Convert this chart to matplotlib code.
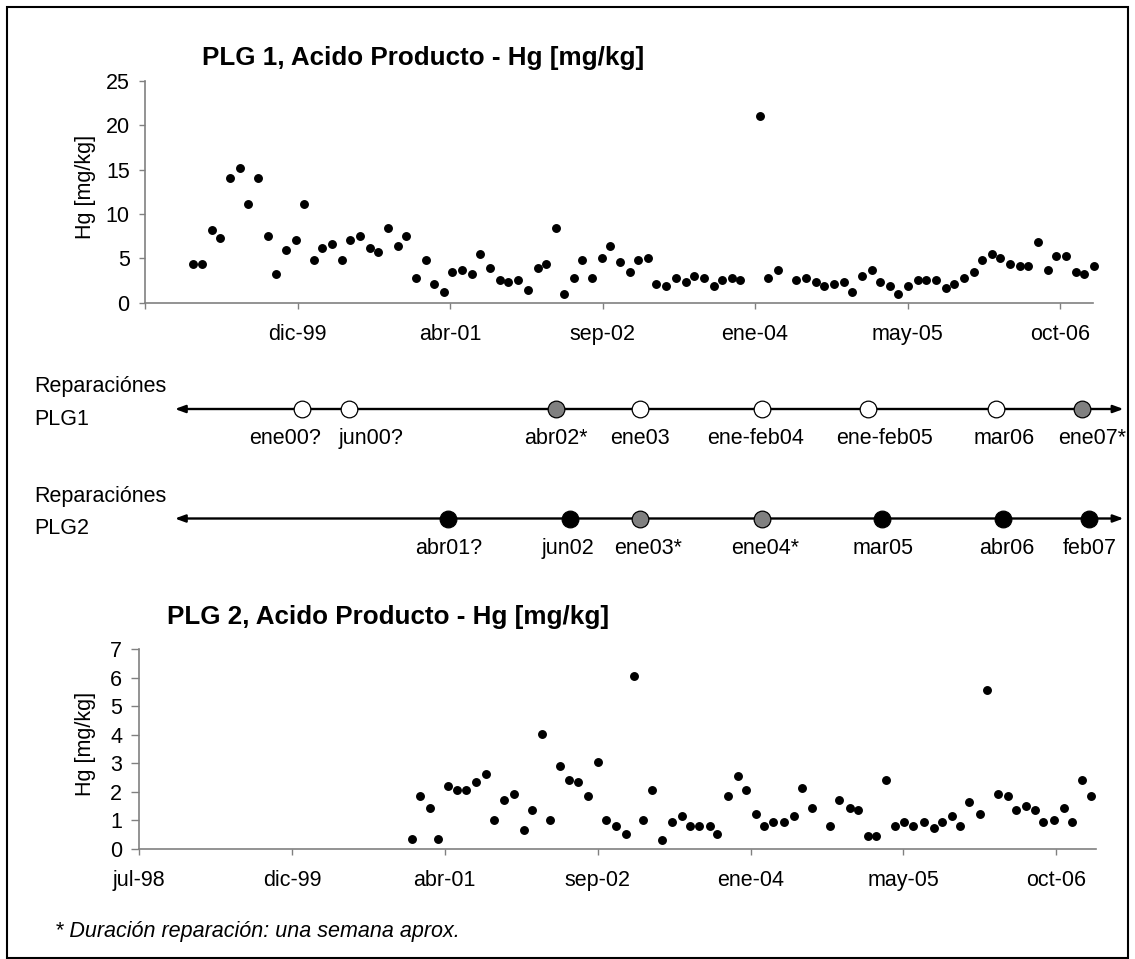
import numpy as np
import matplotlib
matplotlib.use("Agg")
import matplotlib.pyplot as plt
from matplotlib.patches import Rectangle

plt.rcParams['font.family'] = ['Liberation Sans', 'DejaVu Sans']

# x values: days counted from 24-jul-1998 (Excel serial 36000)
tick_days = [0, 500, 1000, 1500, 2000, 2500, 3000]
tick_labels = ['jul-98', 'dic-99', 'abr-01', 'sep-02', 'ene-04', 'may-05', 'oct-06']

plg1_days = [158, 186, 219, 245, 278, 311, 337, 370, 402, 429,
             461, 494, 520, 553, 579, 612, 645, 671, 704, 737,
             763, 796, 829, 855, 888, 920, 947, 979, 1006, 1038,
             1071, 1097, 1130, 1163, 1189, 1222, 1255, 1288, 1314, 1347,
             1373, 1406, 1432, 1465, 1498, 1524, 1557, 1589, 1616, 1648,
             1675, 1707, 1740, 1773, 1799, 1832, 1865, 1891, 1924, 1950,
             2016, 2042, 2075, 2134, 2166, 2199, 2225, 2258, 2291, 2317,
             2350, 2383, 2409, 2442, 2468, 2501, 2534, 2560, 2593, 2626,
             2652, 2685, 2717, 2744, 2776, 2803, 2835, 2868, 2894, 2927,
             2960, 2986, 3019, 3052, 3078, 3111]
plg1_hg = [4.36, 4.36, 8.2, 7.26, 14.06, 15.19, 11.09, 14.06, 7.52, 3.2,
           5.94, 7.07, 11.09, 4.81, 6.13, 6.6, 4.81, 7.07, 7.52, 6.13,
           5.68, 8.42, 6.39, 7.52, 2.78, 4.81, 2.1, 1.24, 3.5, 3.69,
           3.24, 5.53, 3.91, 2.56, 2.33, 2.56, 1.43, 3.91, 4.36, 8.42,
           0.98, 2.78, 4.81, 2.78, 5.04, 6.39, 4.59, 3.46, 4.81, 5.04,
           2.1, 1.88, 2.78, 2.33, 3.01, 2.78, 1.88, 2.56, 2.78, 2.56,
           21.05, 2.78, 3.69, 2.56, 2.78, 2.33, 1.88, 2.1, 2.33, 1.2,
           3.01, 3.69, 2.33, 1.88, 0.98, 1.88, 2.56, 2.56, 2.56, 1.66,
           2.1, 2.78, 3.46, 4.81, 5.53, 5.04, 4.36, 4.14, 4.14, 6.84,
           3.69, 5.27, 5.27, 3.46, 3.24, 4.14]

plg2_days = [892, 918, 951, 977, 1009, 1041, 1068, 1101, 1134, 1160,
             1193, 1225, 1258, 1284, 1317, 1343, 1376, 1408, 1435, 1467,
             1500, 1526, 1559, 1592, 1618, 1650, 1677, 1709, 1742, 1775,
             1801, 1833, 1866, 1892, 1925, 1958, 1984, 2017, 2043, 2075,
             2108, 2141, 2167, 2200, 2259, 2291, 2324, 2350, 2383, 2409,
             2442, 2474, 2501, 2533, 2566, 2599, 2625, 2658, 2684, 2716,
             2749, 2775, 2808, 2841, 2867, 2900, 2932, 2958, 2991, 3024,
             3050, 3083, 3115]
plg2_hg = [0.33, 1.85, 1.43, 0.33, 2.2, 2.06, 2.06, 2.34, 2.63, 1.02,
           1.71, 1.92, 0.67, 1.36, 4.03, 1.02, 2.9, 2.41, 2.34, 1.85,
           3.04, 1.02, 0.81, 0.53, 6.06, 1.02, 2.06, 0.32, 0.95, 1.15,
           0.81, 0.81, 0.81, 0.53, 1.85, 2.55, 2.06, 1.22, 0.81, 0.95,
           0.95, 1.15, 2.13, 1.43, 0.81, 1.71, 1.43, 1.36, 0.46, 0.46,
           2.41, 0.81, 0.95, 0.81, 0.95, 0.74, 0.95, 1.15, 0.81, 1.64,
           1.22, 5.57, 1.92, 1.85, 1.36, 1.5, 1.36, 0.95, 1.02, 1.43,
           0.95, 2.41, 1.85]

# repairs ('*' = one week repair)
rep1_days = [515, 670, 1348, 1623, 2022, 2370, 2789, 3071]
rep1_labels = ['ene00?', 'jun00?', 'abr02*', 'ene03', 'ene-feb04', 'ene-feb05', 'mar06', 'ene07*']
rep2_days = [994, 1393, 1623, 2022, 2415, 2814, 3096]
rep2_labels = ['abr01?', 'jun02', 'ene03*', 'ene04*', 'mar05', 'abr06', 'feb07']

W, H = 1135, 959
FS = 15.5
AX_COL = '#808080'


def fx(px):
    return px / W


def fy(py):
    return 1 - py / H


fig = plt.figure(figsize=(W / 100, H / 100), dpi=100)
fig.patch.set_facecolor('white')


def style_axes(ax, ylim, yticks, xmax, labels, ytick_len):
    ax.set_xlim(0, xmax)
    ax.set_ylim(*ylim)
    ax.set_yticks(yticks)
    ax.set_xticks(tick_days)
    ax.set_xticklabels(labels)
    for s in ['top', 'right']:
        ax.spines[s].set_visible(False)
    for s in ['left', 'bottom']:
        ax.spines[s].set_color(AX_COL)
        ax.spines[s].set_linewidth(1.2)
    ax.tick_params(axis='x', direction='out', length=4, width=1, color=AX_COL,
                   pad=11.5, labelsize=FS)
    ax.tick_params(axis='y', direction='out', length=ytick_len, width=1, color=AX_COL,
                   pad=6.5, labelsize=FS)


# top chart
ax1 = fig.add_axes([fx(145), fy(302.7), (1093 - 145) / W, (302.7 - 81) / H])
ax1.plot(plg1_days, plg1_hg, 'o', color='black', ms=5.4, clip_on=False, zorder=3)
style_axes(ax1, (0, 25), range(0, 26, 5), 3108, [''] + tick_labels[1:], 4.5)
fig.text(fx(201.7), fy(58.5), 'PLG 1, Acido Producto - Hg [mg/kg]', fontsize=18.7,
         fontweight='bold', ha='left', va='center')
fig.text(fx(85.3), fy(186.5), 'Hg [mg/kg]', fontsize=FS, rotation=90,
         ha='center', va='center')

# bottom chart
ax2 = fig.add_axes([fx(139), fy(848.7), (1095.7 - 139) / W, (848.7 - 649.3) / H])
ax2.plot(plg2_days, plg2_hg, 'o', color='black', ms=5.4, clip_on=False, zorder=3)
style_axes(ax2, (0, 7), range(0, 8), 3129, tick_labels, 5.5)
fig.text(fx(166.7), fy(617), 'PLG 2, Acido Producto - Hg [mg/kg]', fontsize=18.7,
         fontweight='bold', ha='left', va='center')
fig.text(fx(85.3), fy(744), 'Hg [mg/kg]', fontsize=FS, rotation=90,
         ha='center', va='center')

# repair timelines, same date scale as the top chart
tl = fig.add_axes([fx(145), fy(570), (1093 - 145) / W, (570 - 340) / H])
tl.set_xlim(0, 3108)
tl.set_ylim(570, 340)
tl.axis('off')

rows = [
    (rep1_days, rep1_labels, 409, 'white', [-17, 22, 0, 0, -6, 17, 8, 10], 'PLG1'),
    (rep2_days, rep2_labels, 518.5, 'black', [0, -2, 8, 3, 1, 3, 0], 'PLG2'),
]
for days, labels, yrow, base_col, dx, name in rows:
    tl.annotate('', xy=(3208, yrow), xytext=(98, yrow), annotation_clip=False,
                arrowprops=dict(arrowstyle='<|-|>,head_length=0.6,head_width=0.22',
                                color='black', lw=1.7, shrinkA=0, shrinkB=0,
                                mutation_scale=10))
    for d, lab, off in zip(days, labels, dx):
        col = '#808080' if lab.endswith('*') else base_col
        tl.plot([d], [yrow], 'o', ms=12, mfc=col, mec='black', mew=0.9,
                clip_on=False, zorder=4)
        tl.annotate(lab, xy=(d, yrow), xytext=(off * 0.72, -21.5),
                    textcoords='offset points', ha='center', va='center',
                    fontsize=FS, annotation_clip=False)
    fig.text(fx(34), fy(yrow - 22.3), 'Reparaciónes', fontsize=FS, ha='left', va='center')
    fig.text(fx(34), fy(yrow + 10.5), name, fontsize=FS, ha='left', va='center')

fig.text(fx(55), fy(931.7), '* Duración reparación: una semana aprox.', fontsize=FS,
         style='italic', ha='left', va='center')

# frame around the whole picture
fig.patches.append(Rectangle((fx(7), fy(957.5)), (1127.5 - 7) / W, (957.5 - 7) / H,
                             transform=fig.transFigure, fill=False, edgecolor='black',
                             linewidth=1.5))

fig.savefig('out.png', dpi=100)
